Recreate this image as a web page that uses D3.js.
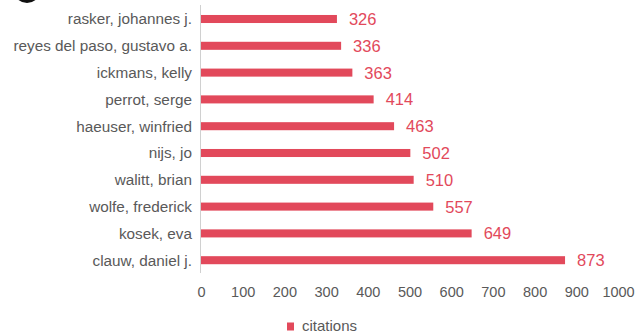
<!DOCTYPE html>
<html>
<head>
<meta charset="utf-8">
<script src="https://cdn.jsdelivr.net/npm/d3@7"></script>
<style>
  body { margin: 0; background: #fff; }
  svg { display: block; }
</style>
</head>
<body>
<div id="container"><svg></svg></div>
<script>
let width = 644
let height = 335
let fontFamily = "Liberation Sans, Arial, sans-serif"

let authors = ['rasker, johannes j.', 'reyes del paso, gustavo a.', 'ickmans, kelly',
    'perrot, serge', 'haeuser, winfried', 'nijs, jo', 'walitt, brian',
    'wolfe, frederick', 'kosek, eva', 'clauw, daniel j.']
let citations = [326, 336, 363, 414, 463, 502, 510, 557, 649, 873]
let x_ticks = [0, 100, 200, 300, 400, 500, 600, 700, 800, 900, 1000]
let series_name = 'citations'

let bar_color = '#e2495b'
let text_color = '#595959'

function draw_main() {
    let svg = d3.select('#container').select('svg')
        .attr('width', width)
        .attr('height', height)
        .style('font-family', fontFamily)

    // cut-off black mark in the top-left corner
    svg.append('circle')
        .attr('cx', 27).attr('cy', -10.5).attr('r', 13.5)
        .attr('fill', '#111')

    let x = d3.scaleLinear()
        .domain([0, 1000])
        .range([201, 618])

    let y = d3.scaleBand()
        .domain(authors)
        .range([5.6, 273.6])
        .paddingInner(0.7)
        .paddingOuter(0.35)

    // category axis line
    svg.append('line')
        .attr('x1', 200.5).attr('x2', 200.5)
        .attr('y1', 5).attr('y2', 273)
        .attr('stroke', '#d0d0d0')
        .attr('stroke-width', 1)

    // bars
    svg.append('g')
        .selectAll('rect')
        .data(citations)
        .enter().append('rect')
        .attr('x', x(0))
        .attr('y', (d, i) => y(authors[i]))
        .attr('width', d => x(d) - x(0))
        .attr('height', y.bandwidth())
        .attr('fill', bar_color)

    // category labels
    svg.append('g')
        .selectAll('text')
        .data(authors)
        .enter().append('text')
        .attr('x', 192)
        .attr('y', d => y(d) + y.bandwidth() / 2)
        .attr('dy', '0.35em')
        .attr('text-anchor', 'end')
        .attr('font-size', 15.3)
        .attr('fill', text_color)
        .text(d => d)

    // value labels
    svg.append('g')
        .selectAll('text')
        .data(citations)
        .enter().append('text')
        .attr('x', d => x(d) + 12)
        .attr('y', (d, i) => y(authors[i]) + y.bandwidth() / 2)
        .attr('dy', '0.36em')
        .attr('font-size', 16.5)
        .attr('fill', bar_color)
        .text(d => d)

    // x axis
    let axis_x = d3.axisBottom()
        .scale(x)
        .tickValues(x_ticks)
        .tickSize(0)
        .tickPadding(0)
        .tickFormat(d => d)
    let gx = svg.append('g')
        .attr('transform', `translate(0, 287)`)
        .call(axis_x)
    gx.select('.domain').remove()
    gx.selectAll('text')
        .attr('font-family', fontFamily)
        .attr('font-size', 14.5)
        .attr('fill', text_color)

    // legend
    let legend = svg.append('g')
    legend.append('rect')
        .attr('x', 287).attr('y', 322.5)
        .attr('width', 7).attr('height', 8)
        .attr('fill', bar_color)
    legend.append('text')
        .attr('x', 302).attr('y', 331)
        .attr('font-size', 15)
        .attr('fill', text_color)
        .text(series_name)
}

draw_main()
</script>
</body>
</html>
